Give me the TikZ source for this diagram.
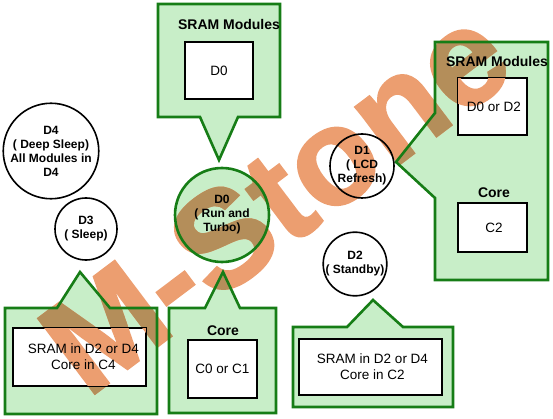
\documentclass[tikz,border=0pt]{standalone}
\usepackage{fontspec}
\setmainfont{Liberation Sans}
\newfontfamily\stampfont{Liberation Sans}[BoldFeatures={FakeBold=1.5}]
\usepackage{xcolor}
\usepackage{tikz}
\usetikzlibrary{calc}
\definecolor{calloutfill}{RGB}{200,238,200}
\definecolor{calloutline}{RGB}{22,125,22}
\definecolor{stampcolor}{RGB}{236,158,112}
\definecolor{stampshade}{RGB}{180,142,90}
\tikzset{
	rim/.style={draw=calloutline, line width=2.6pt, line join=miter},
	inbox/.style={draw=black, fill=white, line width=1.1pt, inner sep=0pt},
	boxtext/.style={align=center, font=\fontsize{13.5}{16}\selectfont},
	state/.style={circle, draw=black, line width=1.6pt, inner sep=0pt, align=center, font=\bfseries\fontsize{12}{14}\selectfont},
	heading/.style={font=\bfseries\fontsize{14}{16}\selectfont},
	stamp/.style={rotate=37, inner sep=0pt, font=\stampfont\bfseries\fontsize{137}{137}\selectfont}
}
% callout outlines
\newcommand\toppath{(158,4) -- (280,4) -- (280,117) -- (238,117) -- (219,160) -- (200,117) -- (158,117) -- cycle}
\newcommand\rightpath{(435,42) -- (548,42) -- (548,280) -- (435,280) -- (435,198) -- (396,162) -- (435,113) -- cycle}
\newcommand\leftpath{(5,308) -- (57,308) -- (80,272) -- (110,308) -- (157,308) -- (157,414) -- (5,414) -- cycle}
\newcommand\midpath{(169,308) -- (205,308) -- (223,272) -- (240,308) -- (276,308) -- (276,413) -- (169,413) -- cycle}
\newcommand\lowpath{(293,327) -- (347,327) -- (373,300) -- (403,327) -- (453,327) -- (453,407) -- (293,407) -- cycle}
\begin{document}
\begin{tikzpicture}[x=1pt, y=-1pt]
		\useasboundingbox (0,0) rectangle (553,419);
		% green fills
		\fill[calloutfill] \toppath;
		\fill[calloutfill] \rightpath;
		\fill[calloutfill] \leftpath;
		\fill[calloutfill] \midpath;
		\fill[calloutfill] \lowpath;
		\fill[calloutfill] (222,215) circle (47);
		% inner boxes
		\node[inbox, minimum width=68pt, minimum height=57pt] (dzero) at (219,70.5) {};
		\node[inbox, minimum width=69pt, minimum height=57pt] (dzerotwo) at (492.5,106.5) {};
		\node[inbox, minimum width=69pt, minimum height=49pt] (ctwo) at (492.5,227.5) {};
		\node[inbox, minimum width=133pt, minimum height=58pt] (deepbox) at (79.5,357) {};
		\node[inbox, minimum width=69pt, minimum height=58pt] (czeroone) at (222.5,369) {};
		\node[inbox, minimum width=143pt, minimum height=56pt] (standbybox) at (370.5,367) {};
		% stamp, darker where it lies on green
		\node[stamp, text=stampcolor] (stamp) at (275,199) {M-Stone};
		\begin{scope}[even odd rule]
			\clip (222,215) circle (47) \toppath (dzero.north west) rectangle (dzero.south east)
				\rightpath (dzerotwo.north west) rectangle (dzerotwo.south east) (ctwo.north west) rectangle (ctwo.south east)
				\leftpath (deepbox.north west) rectangle (deepbox.south east)
				\midpath (czeroone.north west) rectangle (czeroone.south east)
				\lowpath (standbybox.north west) rectangle (standbybox.south east);
			\node[stamp, text=stampshade] (stampdark) at (275,199) {M-Stone};
		\end{scope}
		% outlines on top
		\draw[rim] \toppath;
		\draw[rim] \rightpath;
		\draw[rim] \leftpath;
		\draw[rim] \midpath;
		\draw[rim] \lowpath;
		\foreach \b in {dzero,dzerotwo,ctwo,deepbox,czeroone,standbybox}
			\draw[line width=1.1pt] (\b.north west) rectangle (\b.south east);
		% power states
		\node[state, minimum size=86pt] (dfour) at (51,151) {D4\\( Deep Sleep)\\All Modules in\\D4};
		\node[state, minimum size=62pt] (dthree) at (86,229) {D3\\( Sleep)};
		\node[state, minimum size=94pt, draw=calloutline, line width=2.6pt] (drun) at (222,215) {D0\\( Run and\\Turbo)};
		\node[state, minimum size=64pt] (done) at (362,166) {D1\\( LCD\\Refresh)};
		\node[state, minimum size=62pt] (dtwo) at (355,264) {D2\\( Standby)};
		% texts
		\node[heading] (sramtop) at (229,25) {SRAM Modules};
		\node[boxtext] at (dzero) {D0};
		\node[heading] (sramright) at (497,62) {SRAM Modules};
		\node[boxtext, xshift=1.5pt] at (dzerotwo) {D0 or D2};
		\node[heading] (coreright) at (494,193) {Core};
		\node[boxtext, xshift=1.5pt] at (ctwo) {C2};
		\node[boxtext, xshift=4pt] at (deepbox) {SRAM in D2 or D4\\Core in C4};
		\node[heading] (coremid) at (223,331) {Core};
		\node[boxtext] at (czeroone) {C0 or C1};
		\node[boxtext, xshift=2pt] at (standbybox) {SRAM in D2 or D4\\Core in C2};
	\end{tikzpicture}
\end{document}
